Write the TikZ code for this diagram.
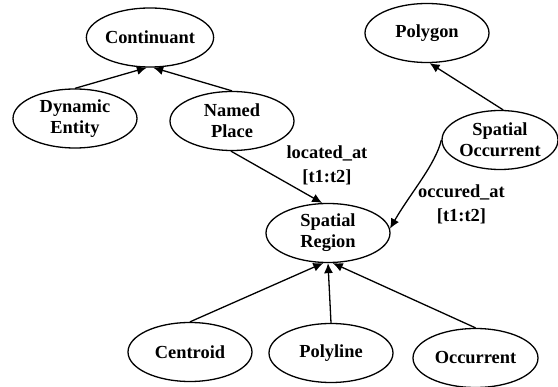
\documentclass[tikz,border=0pt]{standalone}
\usepackage{fontspec}
\setmainfont{Liberation Serif}
\usetikzlibrary{shapes.geometric,arrows.meta}
\tikzset{
  concept/.style={ellipse, draw, line width=1.3pt, minimum width=124pt, minimum height=59pt, inner sep=0pt, align=center, font=\fontsize{18.4}{21}\selectfont\bfseries},
  rel/.style={line width=1.3pt, -{Latex[length=10pt,width=9pt]}},
  lbl/.style={align=center, inner sep=0pt, font=\fontsize{18.4}{24}\selectfont\bfseries}
}
\begin{document}
\begin{tikzpicture}[x=1pt,y=-1pt]
\useasboundingbox (0,0) rectangle (558,387);
\node[concept] (cont) at (150,37.5) {Continuant};
\node[concept] (dyn) at (75,118.5) {Dynamic\\Entity};
\node[concept] (named) at (232,121) {Named\\Place};
\node[concept] (poly) at (427,33) {Polygon};
\node[concept, minimum width=116pt] (socc) at (500,140) {Spatial\\Occurrent};
\node[concept] (sr) at (328,233) {Spatial\\Region};
\node[concept] (cent) at (190,352) {Centroid};
\node[concept] (pl) at (331,353) {Polyline};
\node[concept, minimum width=125pt] (occ) at (475.5,358) {Occurrent};

\draw[rel] (dyn.north) -- (cont.264);
\draw[rel] (named.north) -- (cont.276);
\draw[rel] (named.268) -- (sr.101);
\draw[rel] (socc.84) -- (poly.275);
\draw[rel] (socc.west) .. controls +(-6,25) and +(20,-35) .. (sr.4);
\draw[rel] (cent.north) -- (sr.261);
\draw[rel] (pl.north) -- (sr.south);
\draw[rel] (occ.north) -- (sr.279);

\node[lbl] (la) at (327,165) {located\_at\\{}[t1:t2]};
\node[lbl] (oa) at (461.5,204) {occured\_at\\{}[t1:t2]};
\end{tikzpicture}
\end{document}
